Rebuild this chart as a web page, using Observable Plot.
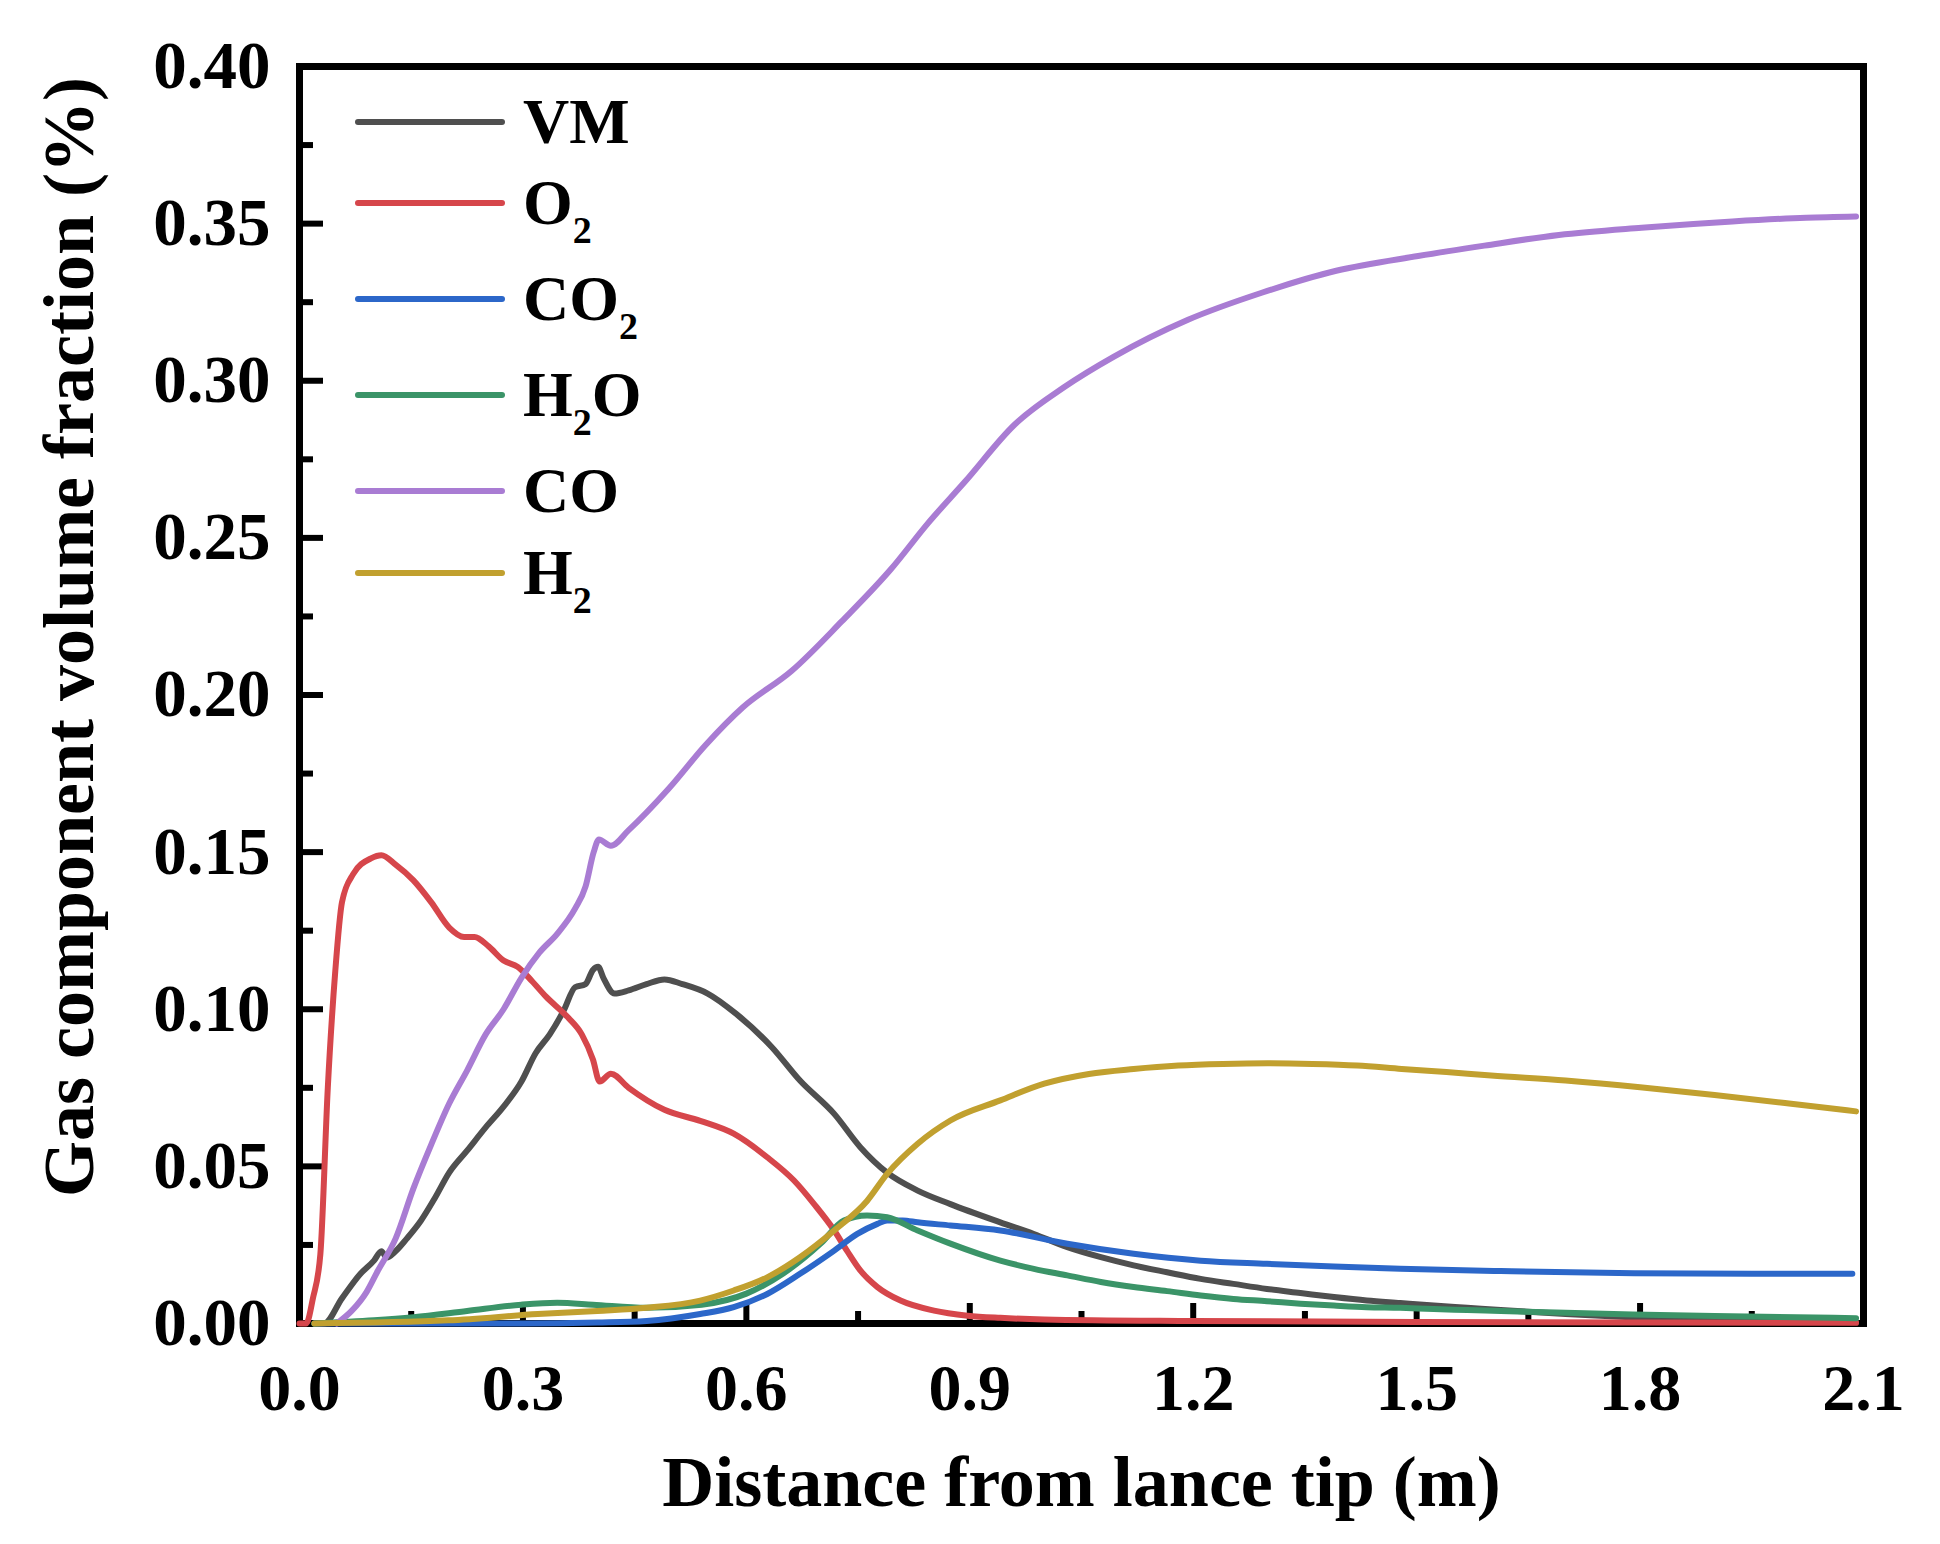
<!DOCTYPE html>
<html>
<head>
<meta charset="utf-8">
<script src="https://cdn.jsdelivr.net/npm/d3@7"></script>
<script src="https://cdn.jsdelivr.net/npm/@observablehq/plot@0.6"></script>
<style>
  html, body { margin: 0; padding: 0; background: #fff; overflow: hidden; }
  #wrap { position: relative; width: 1940px; height: 1544px; font-family: "Liberation Serif", "Times New Roman", serif; font-weight: bold; }
  .row { position: absolute; left: 355px; height: 80px; display: flex; align-items: center; }
  .swatch { width: 150px; height: 6px; border-radius: 3px; }
  .lab { margin-left: 18px; font-size: 64px; line-height: 1; color: #000; white-space: nowrap; }
  .sb { position: relative; top: 19px; font-size: 38px; }
</style>
</head>
<body>
<div id="wrap"></div>
<script>
// ---------- data ----------
const seriesNames = ["VM", "O2", "CO2", "H2O", "CO", "H2"];
const seriesLabels = ["VM", "O<span class='sb'>2</span>", "CO<span class='sb'>2</span>", "H<span class='sb'>2</span>O", "CO", "H<span class='sb'>2</span>"];
const seriesColors = ["#4f4f4f", "#d6464b", "#2c67c9", "#3b9468", "#a97cd3", "#c1a02f"];

const vmX = [0.02, 0.033, 0.057, 0.081, 0.100, 0.110, 0.117, 0.129, 0.144, 0.163, 0.182, 0.201, 0.225, 0.250, 0.274, 0.298, 0.317, 0.336, 0.355, 0.370, 0.384, 0.394, 0.401, 0.408, 0.423, 0.442, 0.466, 0.490, 0.514, 0.548, 0.586, 0.634, 0.672, 0.718, 0.753, 0.789, 0.830, 0.874, 0.941, 0.986, 1.031, 1.076, 1.120, 1.165, 1.210, 1.254, 1.299, 1.344, 1.389, 1.433, 1.478, 1.523, 1.568, 1.613, 1.70, 1.80, 1.90, 2.00, 2.09];
const vmY = [0, 0, 0.008, 0.0156, 0.020, 0.023, 0.021, 0.023, 0.027, 0.0327, 0.040, 0.048, 0.055, 0.0624, 0.069, 0.077, 0.086, 0.092, 0.0997, 0.107, 0.108, 0.1125, 0.1135, 0.110, 0.105, 0.106, 0.108, 0.1095, 0.108, 0.105, 0.0986, 0.088, 0.0773, 0.0667, 0.0561, 0.048, 0.0423, 0.038, 0.0322, 0.0285, 0.0243, 0.0211, 0.0185, 0.0163, 0.0142, 0.0126, 0.011, 0.0097, 0.0084, 0.0073, 0.0065, 0.0057, 0.005, 0.0043, 0.003, 0.0018, 0.001, 0.0006, 0.0004];

const o2X = [0.0, 0.009, 0.018, 0.028, 0.038, 0.048, 0.057, 0.072, 0.096, 0.110, 0.129, 0.153, 0.177, 0.201, 0.221, 0.235, 0.254, 0.274, 0.293, 0.312, 0.331, 0.360, 0.379, 0.394, 0.403, 0.418, 0.442, 0.490, 0.538, 0.583, 0.628, 0.664, 0.691, 0.718, 0.735, 0.753, 0.776, 0.807, 0.852, 0.897, 0.941, 1.0, 1.2, 1.5, 1.8, 2.09];
const o2Y = [0, 0, 0.008, 0.022, 0.075, 0.112, 0.134, 0.143, 0.148, 0.149, 0.146, 0.141, 0.134, 0.126, 0.123, 0.123, 0.120, 0.1155, 0.1135, 0.109, 0.104, 0.0975, 0.092, 0.084, 0.077, 0.0795, 0.075, 0.068, 0.0645, 0.0604, 0.0529, 0.0455, 0.038, 0.0296, 0.0232, 0.0169, 0.0116, 0.0073, 0.0041, 0.0025, 0.0018, 0.0013, 0.0008, 0.0005, 0.0003, 0.0002];

const co2X = [0.02, 0.3, 0.4, 0.466, 0.538, 0.583, 0.628, 0.672, 0.718, 0.749, 0.776, 0.789, 0.810, 0.830, 0.874, 0.941, 1.031, 1.120, 1.210, 1.299, 1.389, 1.478, 1.613, 1.792, 1.95, 2.085];
const co2Y = [0, 0, 0.0003, 0.0008, 0.003, 0.0052, 0.0094, 0.0158, 0.0232, 0.0285, 0.0317, 0.0328, 0.0328, 0.0322, 0.0312, 0.0296, 0.0254, 0.0222, 0.020, 0.019, 0.0181, 0.0174, 0.0167, 0.0160, 0.0158, 0.0158];

const h2oX = [0.02, 0.1, 0.153, 0.225, 0.298, 0.346, 0.394, 0.466, 0.54, 0.60, 0.65, 0.70, 0.731, 0.762, 0.789, 0.830, 0.874, 0.941, 0.986, 1.031, 1.076, 1.120, 1.165, 1.210, 1.254, 1.299, 1.344, 1.389, 1.433, 1.478, 1.523, 1.568, 1.613, 1.70, 1.79, 1.90, 2.06, 2.09];
const h2oY = [0, 0.001, 0.002, 0.004, 0.006, 0.0066, 0.006, 0.005, 0.006, 0.0095, 0.016, 0.0255, 0.0328, 0.0344, 0.0338, 0.0296, 0.0254, 0.020, 0.0174, 0.0153, 0.0132, 0.0116, 0.0103, 0.0089, 0.0078, 0.0071, 0.0063, 0.0057, 0.0052, 0.0050, 0.0046, 0.0043, 0.0040, 0.0034, 0.0029, 0.0024, 0.0018, 0.0017];

const coX = [0.05, 0.07, 0.09, 0.105, 0.129, 0.153, 0.177, 0.201, 0.225, 0.25, 0.274, 0.298, 0.322, 0.346, 0.37, 0.384, 0.395, 0.402, 0.418, 0.442, 0.495, 0.545, 0.595, 0.661, 0.728, 0.794, 0.844, 0.894, 0.96, 1.027, 1.093, 1.193, 1.292, 1.392, 1.502, 1.591, 1.691, 1.802, 1.924, 2.023, 2.09];
const coY = [0, 0.004, 0.01, 0.0167, 0.027, 0.043, 0.057, 0.070, 0.0805, 0.092, 0.100, 0.110, 0.118, 0.124, 0.132, 0.139, 0.150, 0.154, 0.152, 0.157, 0.170, 0.184, 0.196, 0.2077, 0.2234, 0.240, 0.2547, 0.268, 0.286, 0.298, 0.3076, 0.3194, 0.328, 0.335, 0.3397, 0.343, 0.3464, 0.3487, 0.3507, 0.3519, 0.3523];

const h2X = [0.02, 0.2, 0.32, 0.40, 0.466, 0.538, 0.583, 0.628, 0.672, 0.718, 0.762, 0.789, 0.830, 0.874, 0.941, 1.000, 1.060, 1.120, 1.180, 1.240, 1.300, 1.360, 1.420, 1.480, 1.540, 1.600, 1.700, 1.800, 1.900, 2.000, 2.090];
const h2Y = [0, 0.001, 0.003, 0.004, 0.005, 0.0073, 0.0105, 0.0147, 0.0211, 0.0296, 0.039, 0.0476, 0.0572, 0.0646, 0.0710, 0.0763, 0.0794, 0.081, 0.0821, 0.0826, 0.0828, 0.0826, 0.0821, 0.081, 0.080, 0.0789, 0.0773, 0.0752, 0.0727, 0.0700, 0.0675];

const xTicks = [0.0, 0.3, 0.6, 0.9, 1.2, 1.5, 1.8, 2.1];
const xMinor = [0.15, 0.45, 0.75, 1.05, 1.35, 1.65, 1.95];
const yTicks = [0.00, 0.05, 0.10, 0.15, 0.20, 0.25, 0.30, 0.35, 0.40];
const yMinor = [0.025, 0.075, 0.125, 0.175, 0.225, 0.275, 0.325, 0.375];

const xTitle = "Distance from lance tip (m)";
const yTitle = "Gas component volume fraction (%)";

// ---------- build ----------
const seriesXY = [[vmX, vmY], [o2X, o2Y], [co2X, co2Y], [h2oX, h2oY], [coX, coY], [h2X, h2Y]];
const lineMarks = seriesXY.map(([xs, ys], i) =>
  Plot.line(xs.map((x, j) => ({x, y: ys[j]})), {
    x: "x", y: "y", stroke: seriesColors[i], strokeWidth: 6,
    curve: "monotone-x", strokeLinejoin: "round", strokeLinecap: "round"
  })
);

const W = 1940, H = 1544, mL = 299, mR = 77, mT = 66, mB = 221;
const plotW = W - mL - mR, plotH = H - mT - mB;

const chart = Plot.plot({
  width: W, height: H,
  marginLeft: mL, marginRight: mR, marginTop: mT, marginBottom: mB,
  x: {domain: [0, 2.1]},
  y: {domain: [0, 0.4]},
  style: {fontFamily: "'Liberation Serif', 'Times New Roman', serif", fontWeight: "bold", background: "#fff", color: "#000"},
  marks: [
    Plot.frame({stroke: "#000", strokeWidth: 7}),
    Plot.tickX(xTicks, {x: d => d, insetTop: plotH - 20, stroke: "#000", strokeWidth: 6}),
    Plot.tickX(xMinor, {x: d => d, insetTop: plotH - 12, stroke: "#000", strokeWidth: 6}),
    Plot.tickY(yTicks, {y: d => d, insetRight: plotW - 24, stroke: "#000", strokeWidth: 6}),
    Plot.tickY(yMinor, {y: d => d, insetRight: plotW - 14, stroke: "#000", strokeWidth: 6}),
    Plot.axisX({ticks: xTicks, tickFormat: d3.format(".1f"), tickSize: 0, tickPadding: 40, fontSize: 66, fontWeight: "bold", label: null}),
    Plot.axisY({ticks: yTicks, tickFormat: d3.format(".2f"), tickSize: 0, tickPadding: 29, fontSize: 67, fontWeight: "bold", label: null}),
    ...lineMarks,
    Plot.text([xTitle], {text: d => d, frameAnchor: "bottom", textAnchor: "middle", lineAnchor: "middle", dy: 159, fontSize: 72, fontWeight: "bold", fill: "#000"}),
    Plot.text([yTitle], {text: d => d, frameAnchor: "left", textAnchor: "middle", lineAnchor: "middle", rotate: -90, dx: -230, dy: -58, fontSize: 72, fontWeight: "bold", fill: "#000"})
  ]
});

const wrap = document.getElementById("wrap");
wrap.appendChild(chart);

// legend (HTML overlay inside the plot frame)
const legendCenters = [122, 203, 299, 395, 491, 573];
seriesNames.forEach((name, i) => {
  const row = document.createElement("div");
  row.className = "row";
  row.style.top = (legendCenters[i] - 40) + "px";
  const sw = document.createElement("span");
  sw.className = "swatch";
  sw.style.background = seriesColors[i];
  const lab = document.createElement("span");
  lab.className = "lab";
  lab.innerHTML = seriesLabels[i];
  row.appendChild(sw);
  row.appendChild(lab);
  wrap.appendChild(row);
});
</script>
</body>
</html>
